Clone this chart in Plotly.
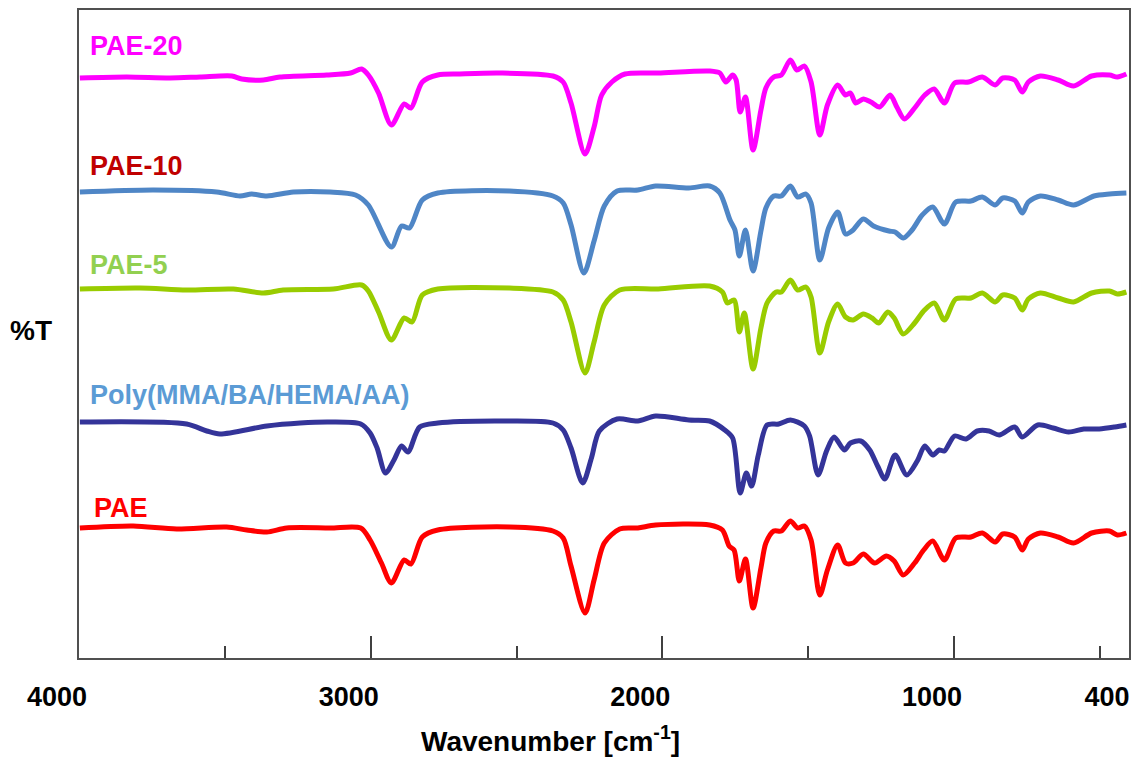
import plotly.graph_objects as go

# ---------------- data (wavenumber cm-1, offset %T in arbitrary units) ----------------
wn_pae20 = [3997, 3836, 3688, 3585, 3476, 3442, 3368, 3311, 3151, 3069, 3031, 3008, 2973, 2929, 2885, 2862,
            2823, 2770, 2694, 2560, 2375, 2340, 2313, 2265, 2234, 2208, 2173, 2128, 2014, 1838, 1803, 1782,
            1759, 1747, 1733, 1715, 1689, 1662, 1645, 1618, 1592, 1561, 1539, 1513, 1490, 1460, 1434, 1399,
            1372, 1355, 1337, 1311, 1285, 1255, 1219, 1196, 1170, 1135, 1100, 1068, 1033, 998, 950, 903,
            859, 833, 792, 766, 745, 704, 643, 590, 528, 467, 440, 409]
t_pae20 = [580, 581, 580, 581, 582, 579, 578, 581, 583, 585, 589, 583, 565, 533, 554, 550,
           576, 583, 584, 585, 582, 576, 555, 504, 531, 563, 576, 584, 585, 587, 585, 576,
           583, 578, 546, 561, 508, 548, 570, 581, 583, 598, 588, 592, 576, 523, 553, 573,
           563, 565, 555, 559, 556, 551, 563, 551, 539, 550, 563, 569, 555, 575, 576, 581,
           573, 580, 578, 566, 576, 582, 578, 572, 582, 583, 581, 584]

wn_pae10 = [3997, 3745, 3528, 3448, 3408, 3356, 3265, 3139, 3052, 3008, 2929, 2894, 2867, 2823, 2770, 2524,
            2375, 2340, 2313, 2269, 2234, 2199, 2155, 2084, 2023, 1909, 1838, 1803, 1768, 1751, 1736, 1715,
            1689, 1662, 1645, 1618, 1592, 1561, 1536, 1508, 1490, 1460, 1430, 1399, 1372, 1346, 1311, 1276,
            1223, 1202, 1174, 1144, 1109, 1073, 1033, 994, 942, 903, 859, 833, 792, 766, 745, 704,
            643, 590, 520, 467, 409]
t_pae10 = [466, 468, 466, 462, 464, 462, 466, 466, 463, 453, 411, 432, 430, 458, 465, 467,
           462, 455, 433, 385, 417, 452, 467, 468, 472, 470, 472, 465, 438, 428, 402, 428,
           387, 427, 450, 462, 462, 472, 461, 464, 455, 398, 430, 446, 424, 428, 439, 432,
           427, 426, 420, 428, 443, 451, 434, 456, 457, 461, 453, 460, 457, 445, 456, 462,
           458, 453, 462, 464, 465]

wn_pae5 = [3997, 3791, 3631, 3471, 3368, 3300, 3128, 3031, 3008, 2973, 2929, 2885, 2858, 2823, 2770, 2524,
           2375, 2340, 2313, 2265, 2234, 2199, 2146, 2014, 1838, 1794, 1777, 1754, 1736, 1719, 1689, 1662,
           1641, 1610, 1592, 1561, 1536, 1508, 1490, 1460, 1430, 1399, 1372, 1346, 1311, 1281, 1258, 1227,
           1205, 1174, 1135, 1104, 1068, 1033, 994, 942, 903, 859, 833, 792, 766, 745, 704, 643,
           590, 528, 467, 440, 409]
t_pae5 = [369, 370, 368, 369, 365, 368, 369, 373, 367, 346, 318, 340, 336, 363, 369, 370,
          366, 358, 336, 285, 316, 353, 368, 369, 372, 366, 355, 358, 326, 345, 289, 330,
          355, 366, 366, 378, 368, 371, 361, 305, 336, 354, 341, 338, 344, 340, 335, 346,
          340, 324, 335, 347, 355, 338, 359, 360, 365, 356, 363, 360, 348, 359, 365, 360,
          356, 365, 367, 364, 366]

wn_poly = [3997, 3631, 3562, 3517, 3356, 3242, 3139, 3034, 3002, 2978, 2949, 2920, 2894, 2872, 2832, 2770,
           2541, 2375, 2340, 2313, 2273, 2243, 2216, 2155, 2084, 2023, 1909, 1838, 1786, 1759, 1733, 1712,
           1694, 1671, 1641, 1601, 1561, 1513, 1495, 1466, 1437, 1411, 1376, 1355, 1320, 1289, 1262, 1237,
           1202, 1162, 1126, 1100, 1073, 1051, 1033, 998, 959, 920, 880, 845, 792, 766, 713, 660,
           607, 555, 502, 449, 409]
t_poly = [236, 234, 227, 224, 232, 235, 236, 234, 225, 210, 185, 198, 212, 206, 231, 235,
          237, 235, 228, 210, 175, 200, 227, 239, 237, 242, 238, 237, 228, 220, 165, 185,
          172, 203, 233, 234, 238, 232, 222, 183, 207, 221, 208, 215, 217, 208, 192, 179,
          203, 183, 197, 212, 203, 208, 207, 222, 219, 227, 227, 223, 231, 221, 233, 230,
          226, 229, 229, 231, 233]

wn_pae = [3997, 3814, 3665, 3494, 3425, 3356, 3288, 3139, 3034, 3002, 2963, 2929, 2885, 2862, 2823, 2770,
          2524, 2375, 2340, 2313, 2265, 2234, 2199, 2146, 2084, 2023, 1838, 1794, 1771, 1754, 1736, 1715,
          1689, 1662, 1645, 1618, 1592, 1561, 1536, 1513, 1490, 1460, 1434, 1399, 1372, 1346, 1311, 1272,
          1232, 1205, 1174, 1135, 1104, 1073, 1033, 994, 942, 903, 859, 833, 792, 766, 745, 704,
          643, 590, 528, 467, 440, 409]
t_pae = [130, 132, 129, 131, 128, 126, 130, 130, 130, 118, 95, 75, 98, 94, 121, 128,
         131, 127, 120, 92, 45, 78, 115, 129, 130, 133, 133, 128, 112, 108, 77, 99,
         50, 90, 115, 127, 127, 137, 130, 132, 118, 63, 88, 113, 95, 95, 104, 95,
         102, 97, 83, 95, 108, 117, 98, 120, 121, 125, 116, 124, 121, 108, 119, 125,
         121, 115, 125, 127, 123, 125]

series_names = ["PAE-20", "PAE-10", "PAE-5", "Poly(MMA/BA/HEMA/AA)", "PAE"]
series_x = [wn_pae20, wn_pae10, wn_pae5, wn_poly, wn_pae]
series_y = [t_pae20, t_pae10, t_pae5, t_poly, t_pae]
line_colors = ["#FF00FF", "#4F86C6", "#99CC00", "#343499", "#FF0000"]
label_colors = ["#FF00FF", "#C00000", "#92D050", "#5B9BD5", "#FF0000"]
label_pos = [(3969, 612), (3969, 492), (3969, 393), (3969, 263), (3955, 150)]

tick_vals = [4000, 3000, 2000, 1000, 400]
tick_text = ["4000", "3000", "2000", "1000", "400"]
minor_vals = [3500, 2500, 1500, 500]

FONT = "Liberation Sans, Arial, sans-serif"

fig = go.Figure()
for name, xs, ys, c in zip(series_names, series_x, series_y, line_colors):
    fig.add_trace(go.Scatter(x=xs, y=ys, mode="lines", name=name,
                             line=dict(color=c, width=5, shape="spline", smoothing=0.8),
                             showlegend=False))

for name, (lx, ly), c in zip(series_names, label_pos, label_colors):
    fig.add_annotation(x=lx, y=ly, xref="x", yref="y", text=f"<b>{name}</b>",
                       showarrow=False, xanchor="left", yanchor="middle",
                       font=dict(family=FONT, size=27, color=c))

fig.add_annotation(xref="x domain", yref="y domain", x=(31 - 79) / 1050, y=(658 - 330) / 648,
                   text="<b>%T</b>", showarrow=False, xanchor="center", yanchor="middle",
                   font=dict(family=FONT, size=28, color="black"))

fig.add_annotation(xref="x domain", yref="y domain", x=(550 - 79) / 1050, y=(658 - 739) / 648,
                   text="<b>Wavenumber [cm<sup>-1</sup>]</b>", showarrow=False,
                   xanchor="center", yanchor="middle", font=dict(family=FONT, size=28, color="black"))

fig.update_xaxes(range=[4000, 400], tickvals=tick_vals, ticktext=tick_text,
                 ticks="inside", ticklen=22, tickwidth=1.5, tickcolor="#404040",
                 minor=dict(tickvals=minor_vals, ticks="inside", ticklen=12, tickwidth=1.5, tickcolor="#404040"),
                 showline=True, linecolor="#505050", linewidth=2, mirror=True,
                 showgrid=False, zeroline=False, automargin=False,
                 tickfont=dict(family=FONT, size=27, color="black", weight="bold"),
                 ticklabelshift=22, ticklabelstandoff=14)
fig.update_yaxes(range=[0, 648], showticklabels=False, ticks="", showgrid=False, zeroline=False,
                 showline=True, linecolor="#505050", linewidth=2, mirror=True, automargin=False)

fig.update_layout(width=1134, height=758, margin=dict(l=79, r=5, t=10, b=100, autoexpand=False),
                  plot_bgcolor="white", paper_bgcolor="white")

fig.write_html("out.html", config={"displayModeBar": False},
               post_script="document.body.style.margin='0';document.body.style.padding='0';"
                           "document.body.style.overflow='hidden';")
